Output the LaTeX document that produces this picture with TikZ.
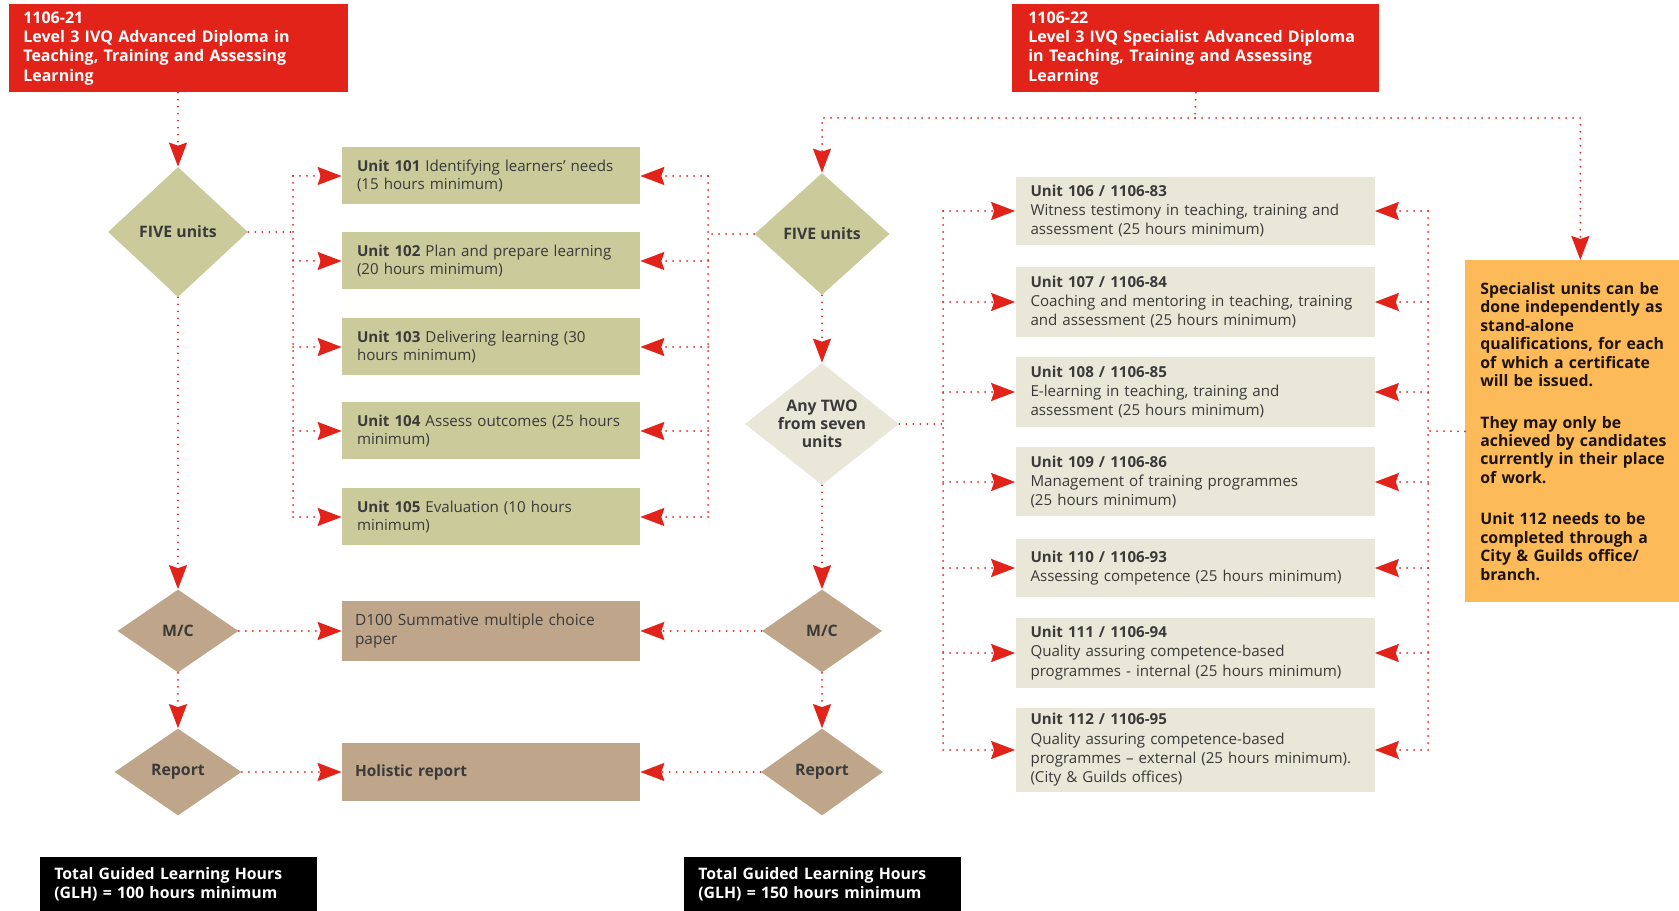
\documentclass[tikz,border=0pt]{standalone}
\usepackage{fontspec}
\setmainfont{Open Sans}
\usetikzlibrary{positioning,shapes.geometric,arrows.meta}

\definecolor{cgred}{HTML}{E2231A}
\definecolor{khaki}{HTML}{CACA9B}
\definecolor{palekhaki}{HTML}{E8E7D8}
\definecolor{tanbox}{HTML}{BFA68A}
\definecolor{notebg}{HTML}{FCBA58}
\definecolor{inkgrey}{HTML}{3A3A3A}

\begin{document}
\begin{tikzpicture}[x=0.2mm, y=-0.2mm,
  dots/.style={draw=cgred, line width=0.4mm, dash pattern=on 0pt off 1.4mm, line cap=round},
  arr/.style={dots, -{Stealth[length=4.8mm, width=3.6mm, inset=0.6mm]}},
  header/.style={fill=cgred, text=white, font=\bfseries\fontsize{9.1}{11}\selectfont, align=left, anchor=north west, inner xsep=2.8mm},
  unitA/.style={fill=khaki, text=inkgrey, font=\fontsize{8.6}{9.8}\selectfont, align=left, text width=53.6mm, inner xsep=3mm, minimum height=11.4mm},
  unitB/.style={fill=palekhaki, text=inkgrey, font=\fontsize{8.6}{11}\selectfont, align=left, text width=65.8mm, inner xsep=3mm},
  exambox/.style={fill=tanbox, text=inkgrey, font=\fontsize{8.8}{10.4}\selectfont, align=left, text width=54.4mm, inner xsep=2.6mm},
  choice/.style={diamond, inner sep=-2pt, shape aspect=1.25, text=inkgrey, font=\bfseries\fontsize{9}{10.2}\selectfont, align=center},
  glh/.style={fill=black, text=white, font=\bfseries\fontsize{9}{10.6}\selectfont, align=left, anchor=north west, text width=49.8mm, inner xsep=2.8mm, minimum height=10.8mm}]

  \useasboundingbox (0,0) rectangle (1679,911);

  % Qualification headers
  \node[header, text width=62.2mm, minimum height=17.6mm] (hdrL) at (9,4)
    {1106-21\\Level 3 IVQ Advanced Diploma in\\Teaching, Training and Assessing\\Learning};
  \node[header, text width=67mm, inner xsep=3.2mm, minimum height=17.6mm] (hdrR) at (1012,4)
    {1106-22\\Level 3 IVQ Specialist Advanced Diploma\\in Teaching, Training and Assessing\\Learning};

  % Choice diamonds
  \node[choice, fill=khaki, minimum width=28mm, minimum height=26mm] (fiveL) at (178,232) {FIVE units};
  \node[choice, fill=khaki, minimum width=27mm, minimum height=24.4mm] (fiveR) at (822,234) {FIVE units};
  \node[choice, fill=palekhaki, minimum width=30.8mm, minimum height=24.4mm] (anytwo) at (822,424) {Any TWO\\from seven\\units};
  \node[choice, fill=tanbox, minimum width=24.2mm, minimum height=16.6mm] (mcL) at (178,631) {M/C};
  \node[choice, fill=tanbox, minimum width=24mm, minimum height=16.6mm] (mcR) at (822,631) {M/C};
  \node[choice, fill=tanbox, minimum width=25.4mm, minimum height=17.4mm] (repL) at (178,772) {Report};
  \node[choice, fill=tanbox, minimum width=24.4mm, minimum height=17.4mm] (repR) at (822,772) {Report};

  % Mandatory units
  \node[unitA] (u101) at (491,176) {\textbf{Unit 101} Identifying learners' needs\\(15 hours minimum)};
  \node[unitA] (u102) at (491,261) {\textbf{Unit 102} Plan and prepare learning\\(20 hours minimum)};
  \node[unitA] (u103) at (491,347) {\textbf{Unit 103} Delivering learning (30\\hours minimum)};
  \node[unitA] (u104) at (491,431) {\textbf{Unit 104} Assess outcomes (25 hours\\minimum)};
  \node[unitA] (u105) at (491,517) {\textbf{Unit 105} Evaluation (10 hours\\minimum)};

  % Assessment boxes
  \node[exambox, minimum height=12mm] (d100) at (491,631) {D100 Summative multiple choice\\paper};
  \node[exambox, minimum height=11.6mm, font=\bfseries\fontsize{8.8}{10.4}\selectfont] (holistic) at (491,772) {Holistic report};

  % Specialist units
  \node[unitB, minimum height=13.6mm] (u106) at (1195,211)
    {\textbf{Unit 106 / 1106-83}\\Witness testimony in teaching, training and\\assessment (25 hours minimum)};
  \node[unitB, minimum height=14mm] (u107) at (1195,302)
    {\textbf{Unit 107 / 1106-84}\\Coaching and mentoring in teaching, training\\and assessment (25 hours minimum)};
  \node[unitB, minimum height=14mm] (u108) at (1195,392)
    {\textbf{Unit 108 / 1106-85}\\E-learning in teaching, training and\\assessment (25 hours minimum)};
  \node[unitB, minimum height=13.8mm] (u109) at (1195,482)
    {\textbf{Unit 109 / 1106-86}\\Management of training programmes\\(25 hours minimum)};
  \node[unitB, minimum height=11.4mm] (u110) at (1195,568)
    {\textbf{Unit 110 / 1106-93}\\Assessing competence (25 hours minimum)};
  \node[unitB, minimum height=14mm] (u111) at (1195,653)
    {\textbf{Unit 111 / 1106-94}\\Quality assuring competence-based\\programmes - internal (25 hours minimum)};
  \node[unitB, minimum height=16mm] (u112) at (1195,750)
    {\textbf{Unit 112 / 1106-95}\\Quality assuring competence-based\\programmes -- external (25 hours minimum).\\(City \& Guilds offices)};

  % Side note
  \node[fill=notebg, text=black!85!brown, font=\bfseries\fontsize{9}{10.5}\selectfont, align=left,
        anchor=north west, text width=40mm, inner xsep=3mm, minimum height=68.4mm] (note) at (1465,260)
    {Specialist units can be\\done independently as\\stand-alone\\qualifications, for each\\of which a certificate\\will be issued.\\[13pt]
     They may only be\\achieved by candidates\\currently in their place\\of work.\\[13pt]
     Unit 112 needs to be\\completed through a\\City \& Guilds office/\\branch.};

  % Totals
  \node[glh] (glhL) at (40,857) {Total Guided Learning Hours\\(GLH) = 100 hours minimum};
  \node[glh] (glhR) at (684,857) {Total Guided Learning Hours\\(GLH) = 150 hours minimum};

  % Left route
  \draw[arr] (hdrL.south -| fiveL.north) -- (fiveL.north);
  \coordinate (busL) at (293,232);
  \draw[dots] (fiveL.east) -- (busL);
  \draw[dots] (busL |- u101.west) -- (busL |- u105.west);
  \foreach \nm in {u101,u102,u103,u104,u105}
    \draw[arr] (busL |- \nm.west) -- (\nm.west);
  \draw[arr] (fiveL.south) -- (mcL.north);
  \draw[arr] (mcL.south) -- (repL.north);
  \draw[arr] (mcL.east) -- (d100.west);
  \draw[arr] (repL.east) -- (holistic.west);

  % Right route
  \coordinate (split) at (1195,118);
  \draw[dots] (hdrR.south) -- (split);
  \draw[arr] (split) -| (fiveR.north);
  \draw[arr] (split) -| (note.north);
  \coordinate (busM) at (708,234);
  \draw[dots] (fiveR.west) -- (busM);
  \draw[dots] (busM |- u101.east) -- (busM |- u105.east);
  \foreach \nm in {u101,u102,u103,u104,u105}
    \draw[arr] (busM |- \nm.east) -- (\nm.east);
  \draw[arr] (fiveR.south) -- (anytwo.north);
  \coordinate (busR) at (943,424);
  \draw[dots] (anytwo.east) -- (busR);
  \draw[dots] (busR |- u106.west) -- (busR |- u112.west);
  \coordinate (busN) at (1428,431);
  \draw[dots] (note.west) -- (busN);
  \draw[dots] (busN |- u106.east) -- (busN |- u112.east);
  \foreach \nm in {u106,u107,u108,u109,u110,u111,u112} {
    \draw[arr] (busR |- \nm.west) -- (\nm.west);
    \draw[arr] (busN |- \nm.east) -- (\nm.east);
  }
  \draw[arr] (anytwo.south) -- (mcR.north);
  \draw[arr] (mcR.south) -- (repR.north);
  \draw[arr] (mcR.west) -- (d100.east);
  \draw[arr] (repR.west) -- (holistic.east);
\end{tikzpicture}
\end{document}
